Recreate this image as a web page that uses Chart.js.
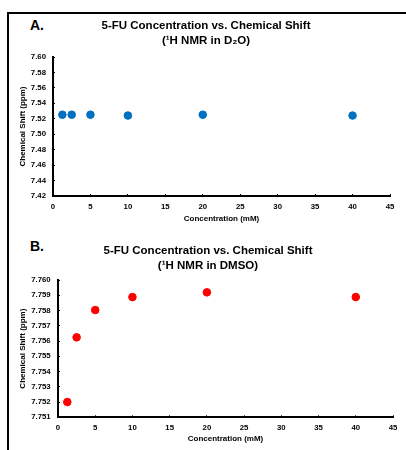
<!DOCTYPE html>
<html>
<head>
<meta charset="utf-8">
<script src="https://cdn.jsdelivr.net/npm/chart.js@4"></script>
<style>
  html, body { margin: 0; padding: 0; background: #fff; }
  body { width: 406px; height: 450px; position: relative; overflow: hidden; font-family: "Liberation Sans", Arial, sans-serif; }
  .frame { position: absolute; left: 7px; top: 12px; width: 410px; height: 450px; border-top: 2px solid #000; border-left: 2px solid #000; }
  .panel { position: absolute; left: 0; width: 406px; height: 225px; }
  .tag { position: absolute; font-weight: bold; font-size: 14px; line-height: 14px; color: #000; }
</style>
</head>
<body>
<div class="frame"></div>
<div class="tag" style="left:30px; top:18px;">A.</div>
<div class="tag" style="left:30px; top:239px;">B.</div>
<div class="panel" style="top:0"><canvas id="chartA" width="406" height="225"></canvas></div>
<div class="panel" style="top:225px"><canvas id="chartB" width="406" height="225"></canvas></div>
<script>
// concentrations (mM)
var concentrations = [1.25, 2.5, 5, 10, 20, 40];
// chemical shift (ppm)
var shiftD2O = [7.5253, 7.5253, 7.5253, 7.5242, 7.5253, 7.5242];
var shiftDMSO = [7.7520, 7.75624, 7.75803, 7.75888, 7.75919, 7.75888];

var xTicks = [0, 5, 10, 15, 20, 25, 30, 35, 40, 45];
var yTicksA = [7.42, 7.44, 7.46, 7.48, 7.50, 7.52, 7.54, 7.56, 7.58, 7.60];
var yTicksB = [7.751, 7.752, 7.753, 7.754, 7.755, 7.756, 7.757, 7.758, 7.759, 7.760];

var titleA = ['5-FU Concentration vs. Chemical Shift', '(\u00B9H NMR in D\u2082O)'];
var titleB = ['5-FU Concentration vs. Chemical Shift', '(\u00B9H NMR in DMSO)'];

Chart.defaults.font.family = '"Liberation Sans", Arial, sans-serif';
Chart.defaults.font.weight = 'bold';
Chart.defaults.color = '#000';

function points(ys) {
    return concentrations.map(function (x, i) { return { x: x, y: ys[i] }; });
}

function makeChart(id, ys, color, title, yTicks, decimals, L) {
    var ctx = document.getElementById(id).getContext('2d');
    return new Chart(ctx, {
        type: 'scatter',
        data: {
            datasets: [{
                data: points(ys),
                backgroundColor: color,
                borderColor: color,
                pointRadius: 3.8,
                pointHoverRadius: 3.8
            }]
        },
        options: {
            responsive: false,
            animation: false,
            events: [],
            layout: { padding: { left: L.left, right: L.right, top: 0, bottom: 0 } },
            plugins: {
                legend: { display: false },
                tooltip: { enabled: false },
                title: {
                    display: true,
                    text: title,
                    color: '#000',
                    font: { size: 11.5, weight: 'bold', lineHeight: 1.3 },
                    padding: { top: L.titleTop, bottom: L.titleBottom }
                }
            },
            scales: {
                x: {
                    type: 'linear',
                    min: 0,
                    max: 45,
                    afterBuildTicks: function (s) { s.ticks = xTicks.map(function (v) { return { value: v }; }); },
                    afterFit: function (s) { s.height = L.xHeight; },
                    grid: { display: true, drawOnChartArea: false, tickLength: -2, color: '#000', lineWidth: 1 },
                    border: { display: true, color: '#000', width: 2 },
                    ticks: { font: { size: 7.8, weight: 'bold' }, padding: L.xTickPad, maxRotation: 0 },
                    title: {
                        display: true,
                        text: 'Concentration (mM)',
                        font: { size: 8, weight: 'bold' },
                        padding: { top: 0, bottom: L.xTitleBottom }
                    }
                },
                y: {
                    type: 'linear',
                    min: yTicks[0],
                    max: yTicks[yTicks.length - 1],
                    afterBuildTicks: function (s) { s.ticks = yTicks.map(function (v) { return { value: v }; }); },
                    afterFit: function (s) { s.width = L.yWidth; },
                    grid: { display: true, drawOnChartArea: false, tickLength: -2, color: '#000', lineWidth: 1 },
                    border: { display: true, color: '#000', width: 2 },
                    ticks: {
                        font: { size: 7.8, weight: 'bold' },
                        padding: L.yTickPad,
                        callback: function (v) { return Number(v).toFixed(decimals); }
                    },
                    title: {
                        display: true,
                        text: 'Chemical Shift (ppm)',
                        font: { size: 8, weight: 'bold' },
                        padding: { top: L.yTitleTop, bottom: 0 }
                    }
                }
            }
        }
    });
}

makeChart('chartA', shiftD2O, '#0070C0', titleA, yTicksA, 2, {
    left: 22, right: 16, titleTop: 18.5, titleBottom: 8.6,
    xHeight: 29, xTickPad: 8.1, xTitleBottom: 1.2,
    yWidth: 31, yTickPad: 9, yTitleTop: -3.8
});

makeChart('chartB', shiftDMSO, '#FF0000', titleB, yTicksB, 3, {
    left: 23, right: 13, titleTop: 18, titleBottom: 7.1,
    xHeight: 32.7, xTickPad: 7.8, xTitleBottom: 6.9,
    yWidth: 35, yTickPad: 9.3, yTitleTop: -4.8
});
</script>
</body>
</html>
